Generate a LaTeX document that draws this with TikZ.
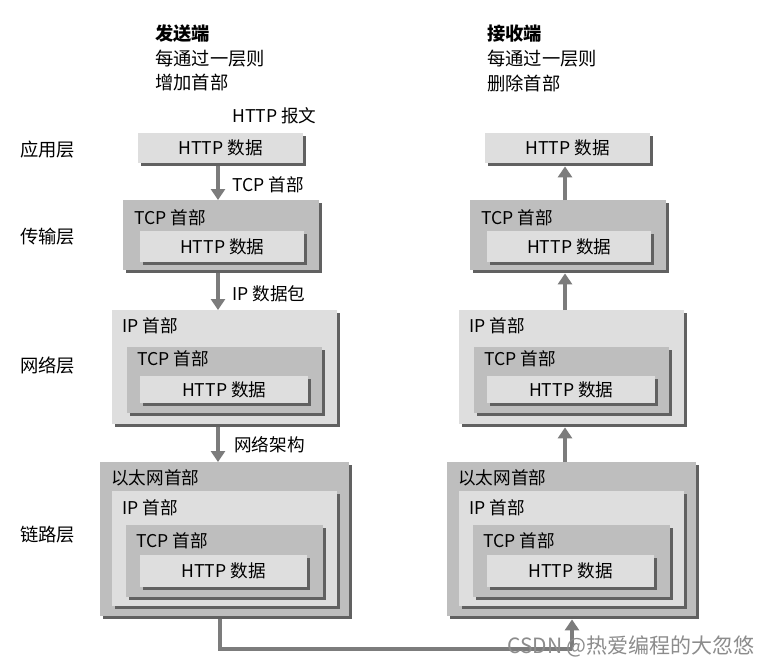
\documentclass[tikz,border=0pt]{standalone}
\usepackage{fontspec}
\setmainfont{Noto Sans CJK SC}
\usetikzlibrary{arrows.meta,shadows}
\definecolor{cLight}{HTML}{DEDEDE}
\definecolor{cDark}{HTML}{BEBEBE}
\definecolor{cArrow}{HTML}{7C7C7C}
\begin{document}
\begin{tikzpicture}[x=1pt,y=-1pt,
  pk/.style={draw=none,inner sep=0pt,anchor=north west,
    drop shadow={shadow xshift=2.5pt,shadow yshift=-2.5pt,fill=black!62,opacity=1}},
  txt/.style={inner sep=0pt,anchor=west,font=\fontsize{17.6}{20}\selectfont},
  htxt/.style={inner sep=0pt,anchor=west,font=\fontsize{18.3}{21}\selectfont},
  ctxt/.style={inner sep=0pt,font=\fontsize{17.6}{20}\selectfont},
  arr/.style={draw=cArrow,line width=4pt,-{Triangle[width=14pt,length=11pt]}},
  lnk/.style={draw=cArrow,line width=3.5pt}]
\useasboundingbox (0,0) rectangle (763,666);
\fill[white] (0,0) rectangle (763,666);

% headers
\node[htxt,font=\fontsize{18.3}{21}\selectfont\bfseries] (hs1) at (155,34) {发送端};
\node[htxt] (hs2) at (155,59) {每通过一层则};
\node[htxt] (hs3) at (155,83) {增加首部};
\node[htxt,font=\fontsize{18.3}{21}\selectfont\bfseries] (hr1) at (487,34) {接收端};
\node[htxt] (hr2) at (487,59) {每通过一层则};
\node[htxt] (hr3) at (487,83) {删除首部};

% layer labels
\node[htxt] (lay1) at (20,150) {应用层};
\node[htxt] (lay2) at (20,237) {传输层};
\node[htxt] (lay3) at (20,366) {网络层};
\node[htxt] (lay4) at (20,535) {链路层};

\node[txt] (msg) at (232,116) {HTTP 报文};

% ===== left column =====
\node[pk,fill=cLight,minimum width=165,minimum height=30] (a1) at (138,133) {};
\node[ctxt] (a1t) at (a1.center) {HTTP 数据};

\node[pk,fill=cDark,minimum width=196,minimum height=70] (t1) at (123,200) {};
\node[txt] (t1t) at (134,218) {TCP 首部};
\node[pk,fill=cLight,minimum width=164,minimum height=31] (t1h) at (140,231) {};
\node[ctxt] (t1ht) at (t1h.center) {HTTP 数据};

\node[pk,fill=cLight,minimum width=225,minimum height=114] (n1) at (112,310) {};
\node[txt] (n1t) at (122,326) {IP 首部};
\node[pk,fill=cDark,minimum width=195,minimum height=66] (n1c) at (127,347) {};
\node[txt] (n1ct) at (137,359) {TCP 首部};
\node[pk,fill=cLight,minimum width=168,minimum height=27] (n1h) at (140,376) {};
\node[ctxt] (n1ht) at (n1h.center) {HTTP 数据};

\node[pk,fill=cDark,minimum width=249,minimum height=154] (l1) at (100,462) {};
\node[txt] (l1t) at (111,478) {以太网首部};
\node[pk,fill=cLight,minimum width=225,minimum height=115] (l1i) at (112,491) {};
\node[txt] (l1it) at (122,508) {IP 首部};
\node[pk,fill=cDark,minimum width=197,minimum height=72] (l1c) at (126,525) {};
\node[txt] (l1ct) at (136,541) {TCP 首部};
\node[pk,fill=cLight,minimum width=167,minimum height=32] (l1h) at (140,555) {};
\node[ctxt] (l1ht) at (l1h.center) {HTTP 数据};

% ===== right column =====
\node[pk,fill=cLight,minimum width=165,minimum height=30] (a2) at (485,133) {};
\node[ctxt] (a2t) at (a2.center) {HTTP 数据};

\node[pk,fill=cDark,minimum width=196,minimum height=70] (t2) at (470,200) {};
\node[txt] (t2t) at (481,218) {TCP 首部};
\node[pk,fill=cLight,minimum width=164,minimum height=31] (t2h) at (487,231) {};
\node[ctxt] (t2ht) at (t2h.center) {HTTP 数据};

\node[pk,fill=cLight,minimum width=225,minimum height=114] (n2) at (459,310) {};
\node[txt] (n2t) at (469,326) {IP 首部};
\node[pk,fill=cDark,minimum width=195,minimum height=66] (n2c) at (474,347) {};
\node[txt] (n2ct) at (484,359) {TCP 首部};
\node[pk,fill=cLight,minimum width=168,minimum height=27] (n2h) at (487,376) {};
\node[ctxt] (n2ht) at (n2h.center) {HTTP 数据};

\node[pk,fill=cDark,minimum width=249,minimum height=154] (l2) at (447,462) {};
\node[txt] (l2t) at (458,478) {以太网首部};
\node[pk,fill=cLight,minimum width=225,minimum height=115] (l2i) at (459,491) {};
\node[txt] (l2it) at (469,508) {IP 首部};
\node[pk,fill=cDark,minimum width=197,minimum height=72] (l2c) at (473,525) {};
\node[txt] (l2ct) at (483,541) {TCP 首部};
\node[pk,fill=cLight,minimum width=167,minimum height=32] (l2h) at (487,555) {};
\node[ctxt] (l2ht) at (l2h.center) {HTTP 数据};

% ===== arrows =====
\draw[arr] ([yshift=-3pt]a1.south -| 218,0) -- (t1.north -| 218,0);
\draw[arr] ([yshift=-3pt]t1.south -| 218,0) -- (n1.north -| 218,0);
\draw[arr] ([yshift=-3pt]n1.south -| 218,0) -- (l1.north -| 218,0);
\node[txt] (arl1) at (232,185) {TCP 首部};
\node[txt] (arl2) at (232,294) {IP 数据包};
\node[txt] (arl3) at (234,445) {网络架构};

\draw[arr] (t2.north -| 565,0) -- ([yshift=-3pt]a2.south -| 565,0);
\draw[arr] (n2.north -| 565,0) -- ([yshift=-3pt]t2.south -| 565,0);
\draw[arr] (l2.north -| 565,0) -- ([yshift=-3pt]n2.south -| 565,0);

\coordinate (b1) at (220,649);
\coordinate (b2) at (572,649);
\draw[lnk] ([yshift=-3pt]l1.south -| 220,0) -- (b1) -- (b2);
\draw[arr] ([yshift=1.75pt]b2) -- ([yshift=-3pt]l2.south -| 572,0);

% watermark
\node[txt,text=black!45,font=\fontsize{21}{24}\selectfont] (wm) at (507,646) {CSDN @热爱编程的大忽悠};
\end{tikzpicture}
\end{document}
